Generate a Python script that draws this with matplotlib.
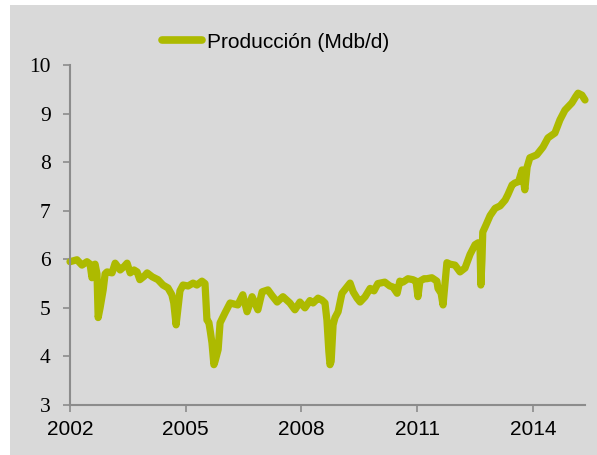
import matplotlib
matplotlib.use("Agg")
import matplotlib.pyplot as plt
from matplotlib.patches import Rectangle

years = [2002.00, 2002.18, 2002.31, 2002.44, 2002.52, 2002.57, 2002.65, 2002.70, 2002.73, 2002.78,
         2002.86, 2002.91, 2002.96, 2003.09, 2003.17, 2003.30, 2003.40, 2003.48, 2003.56, 2003.66,
         2003.74, 2003.81, 2003.92, 2004.00, 2004.13, 2004.28, 2004.41, 2004.54, 2004.64, 2004.69,
         2004.75, 2004.80, 2004.85, 2004.93, 2005.06, 2005.19, 2005.29, 2005.42, 2005.50, 2005.55,
         2005.60, 2005.64, 2005.68, 2005.73, 2005.76, 2005.84, 2005.89, 2006.02, 2006.15, 2006.35,
         2006.48, 2006.59, 2006.72, 2006.87, 2006.98, 2007.13, 2007.24, 2007.37, 2007.52, 2007.70,
         2007.83, 2007.96, 2008.09, 2008.22, 2008.30, 2008.43, 2008.53, 2008.61, 2008.66, 2008.71,
         2008.74, 2008.77, 2008.82, 2008.87, 2008.95, 2009.05, 2009.18, 2009.26, 2009.34, 2009.44,
         2009.52, 2009.65, 2009.78, 2009.88, 2009.98, 2010.16, 2010.29, 2010.37, 2010.48, 2010.55,
         2010.63, 2010.76, 2010.89, 2010.97, 2011.02, 2011.07, 2011.18, 2011.25, 2011.38, 2011.51,
         2011.54, 2011.62, 2011.67, 2011.72, 2011.77, 2011.85, 2011.98, 2012.11, 2012.24, 2012.37,
         2012.50, 2012.58, 2012.63, 2012.65, 2012.68, 2012.70, 2012.78, 2012.89, 2013.02, 2013.15,
         2013.28, 2013.35, 2013.46, 2013.53, 2013.63, 2013.72, 2013.79, 2013.85, 2013.92, 2014.10,
         2014.26, 2014.39, 2014.57, 2014.70, 2014.83, 2015.01, 2015.11, 2015.17, 2015.27, 2015.35]

produccion = [5.95, 5.99, 5.88, 5.95, 5.90, 5.62, 5.90, 5.70, 4.80, 5.00,
              5.37, 5.70, 5.74, 5.72, 5.92, 5.78, 5.85, 5.92, 5.72, 5.78,
              5.74, 5.58, 5.65, 5.72, 5.64, 5.58, 5.47, 5.41, 5.27, 5.10,
              4.65, 5.00, 5.35, 5.47, 5.45, 5.51, 5.47, 5.55, 5.50, 4.75,
              4.70, 4.50, 4.28, 3.83, 3.90, 4.14, 4.69, 4.90, 5.10, 5.06,
              5.27, 4.92, 5.23, 4.96, 5.33, 5.37, 5.25, 5.12, 5.23, 5.10,
              4.96, 5.12, 5.00, 5.15, 5.10, 5.20, 5.16, 5.10, 4.75, 4.10,
              3.83, 3.90, 4.65, 4.80, 4.92, 5.30, 5.43, 5.51, 5.33, 5.20,
              5.12, 5.23, 5.40, 5.35, 5.50, 5.53, 5.45, 5.43, 5.30, 5.55,
              5.53, 5.60, 5.58, 5.55, 5.23, 5.55, 5.60, 5.60, 5.62, 5.55,
              5.40, 5.30, 5.06, 5.50, 5.93, 5.90, 5.88, 5.74, 5.82, 6.10,
              6.30, 6.34, 6.20, 5.47, 6.00, 6.56, 6.70, 6.90, 7.05, 7.10,
              7.22, 7.33, 7.53, 7.57, 7.60, 7.84, 7.43, 7.90, 8.09, 8.15,
              8.31, 8.50, 8.60, 8.87, 9.07, 9.22, 9.35, 9.42, 9.38, 9.28]

xticks = [2002, 2005, 2008, 2011, 2014]
xtick_labels = ["2002", "2005", "2008", "2011", "2014"]
yticks = [3, 4, 5, 6, 7, 8, 9, 10]
series_label = "Producción (Mdb/d)"

W, H = 597, 455
fig = plt.figure(figsize=(W / 100, H / 100), dpi=100, facecolor="white")
bg = Rectangle((10 / W, 0), 1 - 10 / W, 1 - 5 / H, transform=fig.transFigure,
               facecolor="#d9d9d9", edgecolor="none", zorder=-10)
fig.add_artist(bg)

ax = fig.add_axes([70 / W, 1 - 405 / H, (585 - 70) / W, (405 - 65) / H])
ax.set_zorder(1)
ax.set_facecolor("none")

line_color = "#adba00"
ax.plot(years, produccion, color=line_color, lw=5.2, solid_joinstyle="round",
        solid_capstyle="round", label=series_label, clip_on=False)

ax.set_xlim(2002, 2015.35)
ax.set_ylim(3, 10)
ax.set_xticks(xticks)
ax.set_xticklabels(xtick_labels, fontfamily="Liberation Sans", fontsize=15)
ax.set_yticks(yticks)
ax.set_yticklabels([str(v) for v in yticks], fontfamily="Liberation Serif", fontsize=15.5)

spine_color = "#8c8c8c"
for s in ["top", "right"]:
    ax.spines[s].set_visible(False)
for s in ["left", "bottom"]:
    ax.spines[s].set_color(spine_color)
    ax.spines[s].set_linewidth(1.5)
ax.tick_params(axis="both", direction="out", length=5, width=1.2, color=spine_color,
               labelcolor="black")
ax.tick_params(axis="y", pad=9)
ax.tick_params(axis="x", pad=6)

leg = fig.legend(loc="center", bbox_to_anchor=(276 / W, 1 - 42 / H), frameon=False,
                 handlelength=1.9, handletextpad=0.25,
                 prop={"family": "Liberation Sans", "size": 15})
leg.set_zorder(2)
for h in leg.get_lines():
    h.set_linewidth(5.5)
    h.set_solid_capstyle("round")

fig.savefig("out.png", dpi=100, facecolor=fig.get_facecolor())
